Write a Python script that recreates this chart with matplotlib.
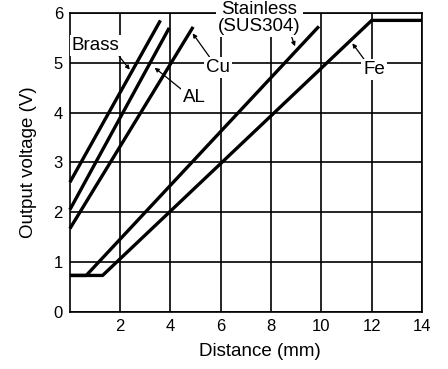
import matplotlib
matplotlib.use('Agg')
import matplotlib.pyplot as plt

plt.rcParams['font.family'] = ['Liberation Sans', 'DejaVu Sans']

# Sensor output vs distance for each target material
brass_x = [0.0, 3.6]
brass_y = [2.6, 5.85]
al_x = [0.0, 3.95]
al_y = [2.05, 5.7]
cu_x = [0.0, 4.9]
cu_y = [1.67, 5.72]
sus_x = [0.0, 0.65, 9.9]
sus_y = [0.73, 0.73, 5.73]
fe_x = [0.0, 1.3, 12.0, 14.0]
fe_y = [0.73, 0.73, 5.85, 5.85]

x_ticks = [2, 4, 6, 8, 10, 12, 14]
y_ticks = [0, 1, 2, 3, 4, 5, 6]

fig = plt.figure(figsize=(4.48, 3.69), dpi=100, facecolor='white')
ax = fig.add_axes([0.156, 0.155, 0.786, 0.81])

ax.set_xlim(0, 14)
ax.set_ylim(0, 6)
ax.set_xticks(x_ticks)
ax.set_yticks(y_ticks)
ax.tick_params(length=0, labelsize=12, pad=5)
ax.grid(True, color='black', linewidth=1.2)
ax.set_axisbelow(True)
for s in ax.spines.values():
    s.set_linewidth(1.2)

lw = 2.4
for xs, ys in [(brass_x, brass_y), (al_x, al_y), (cu_x, cu_y),
               (sus_x, sus_y), (fe_x, fe_y)]:
    ax.plot(xs, ys, color='black', linewidth=lw, solid_capstyle='butt',
            clip_on=False, zorder=3)

ax.set_xlabel('Distance (mm)', fontsize=13.5, labelpad=7)
ax.xaxis.label.set_x(0.54)
ax.set_ylabel('Output voltage (V)', fontsize=13.5, labelpad=12)

fs = 13.5
box = dict(boxstyle='square,pad=0.12', facecolor='white', edgecolor='none')
arrow = dict(arrowstyle='-|>', color='black', linewidth=0.9,
             mutation_scale=6, shrinkA=0, shrinkB=0)

ax.annotate('Brass', xy=(2.38, 4.86), xytext=(1.03, 5.35),
            fontsize=fs, ha='center', va='center', bbox=box,
            arrowprops=dict(arrow, relpos=(0.95, 0)), zorder=5)
ax.annotate('AL', xy=(3.37, 4.9), xytext=(4.96, 4.3),
            fontsize=fs, ha='center', va='center', bbox=box,
            arrowprops=dict(arrow, relpos=(0, 0.9)), zorder=5)
ax.annotate('Cu', xy=(4.88, 5.59), xytext=(5.9, 4.9),
            fontsize=fs, ha='center', va='center', bbox=box,
            arrowprops=dict(arrow, relpos=(0.2, 1)), zorder=5)
ax.annotate('Stainless\n(SUS304)', xy=(8.95, 5.33), xytext=(7.54, 5.9),
            fontsize=fs, ha='center', va='center', bbox=box,
            linespacing=1.0,
            arrowprops=dict(arrow, relpos=(0.88, 0)),
            annotation_clip=False, zorder=5)
ax.annotate('Fe', xy=(11.23, 5.39), xytext=(12.1, 4.86),
            fontsize=fs, ha='center', va='center', bbox=box,
            arrowprops=dict(arrow, relpos=(0.1, 1)), zorder=5)

fig.savefig('out.png', dpi=100, facecolor='white')
